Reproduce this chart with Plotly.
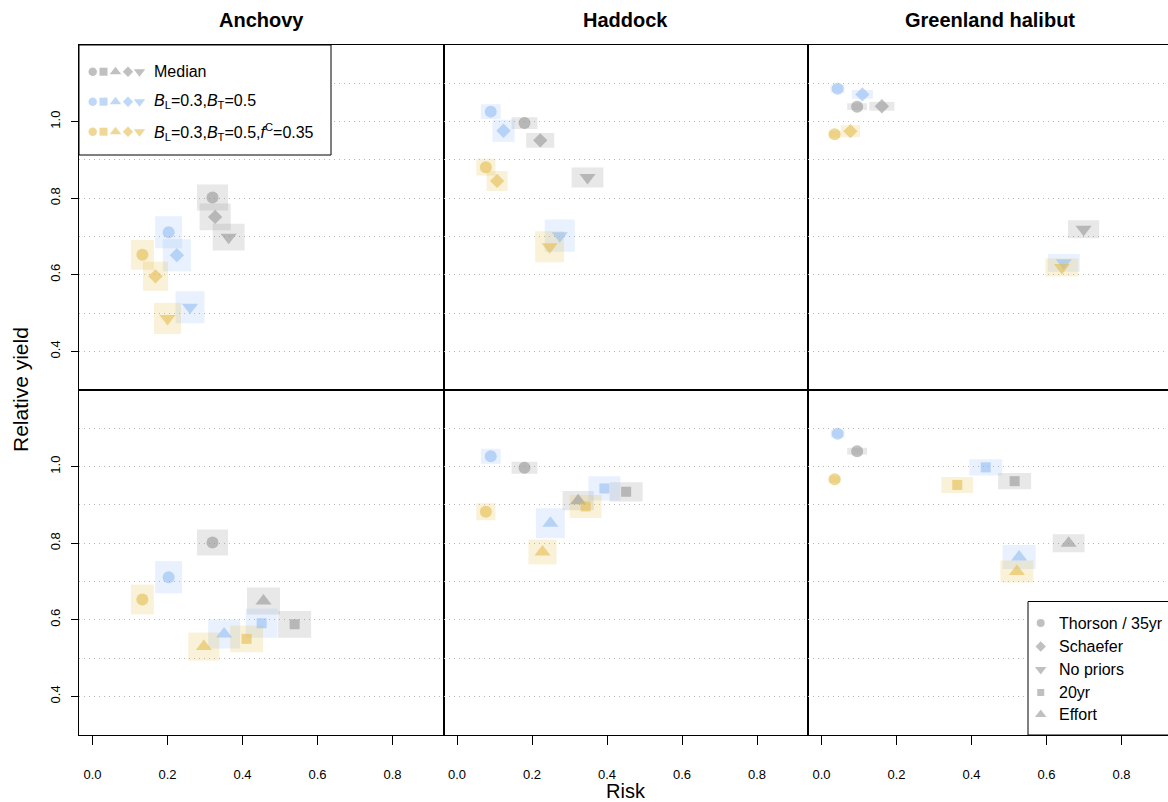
import plotly.graph_objects as go

# ---------------- data ----------------
species = ["Anchovy", "Haddock", "Greenland halibut"]
series_names = ["Median", "B_L=0.3,B_T=0.5", "B_L=0.3,B_T=0.5,f^C=0.35"]
top_methods = ["Thorson", "Schaefer", "No priors"]
bottom_methods = ["Thorson / 35yr", "20yr", "Effort"]
x_ticks = [0.0, 0.2, 0.4, 0.6, 0.8]
y_ticks = [0.4, 0.6, 0.8, 1.0]

# top row: [species][Thorson, Schaefer, No priors]
risk_median_top = [[0.320, 0.327, 0.363], [0.180, 0.222, 0.348], [0.095, 0.161, 0.699]]
yield_median_top = [[0.802, 0.751, 0.698], [0.996, 0.951, 0.854], [1.039, 1.040, 0.719]]
risk_bb_top = [[0.203, 0.225, 0.260], [0.090, 0.124, 0.274], [0.043, 0.109, 0.646]]
yield_bb_top = [[0.711, 0.651, 0.515], [1.026, 0.976, 0.702], [1.086, 1.071, 0.631]]
risk_bbf_top = [[0.133, 0.168, 0.200], [0.077, 0.107, 0.247], [0.035, 0.077, 0.641]]
yield_bbf_top = [[0.652, 0.596, 0.486], [0.881, 0.845, 0.673], [0.967, 0.975, 0.619]]

# bottom row: [species][Thorson/35yr, 20yr, Effort]
risk_median_bot = [[0.320, 0.539, 0.456], [0.180, 0.451, 0.323], [0.095, 0.515, 0.659]]
yield_median_bot = [[0.802, 0.588, 0.649], [0.997, 0.934, 0.911], [1.040, 0.962, 0.800]]
risk_bb_bot = [[0.203, 0.451, 0.351], [0.090, 0.393, 0.249], [0.043, 0.438, 0.527]]
yield_bb_bot = [[0.711, 0.591, 0.563], [1.027, 0.943, 0.852], [1.086, 0.998, 0.764]]
risk_bbf_bot = [[0.133, 0.411, 0.297], [0.077, 0.343, 0.228], [0.035, 0.362, 0.521]]
yield_bbf_bot = [[0.653, 0.550, 0.530], [0.882, 0.896, 0.777], [0.967, 0.952, 0.726]]

# spread (full width in risk, full height in yield) of the shaded boxes
rw_median_top = [[0.083, 0.083, 0.085], [0.069, 0.075, 0.085], [0.053, 0.067, 0.083]]
rh_median_top = [[0.068, 0.070, 0.070], [0.031, 0.039, 0.052], [0.018, 0.023, 0.047]]
rw_bb_top = [[0.072, 0.075, 0.077], [0.053, 0.059, 0.080], [0.037, 0.056, 0.085]]
rh_bb_top = [[0.084, 0.084, 0.084], [0.039, 0.057, 0.084], [0.021, 0.023, 0.047]]
rw_bbf_top = [[0.061, 0.067, 0.072], [0.051, 0.056, 0.077], [0.032, 0.051, 0.088]]
rh_bbf_top = [[0.078, 0.076, 0.081], [0.044, 0.052, 0.081], [0.018, 0.031, 0.047]]

rw_median_bot = [[0.083, 0.088, 0.088], [0.069, 0.088, 0.083], [0.053, 0.088, 0.085]]
rh_median_bot = [[0.068, 0.070, 0.070], [0.031, 0.050, 0.050], [0.018, 0.042, 0.047]]
rw_bb_bot = [[0.072, 0.085, 0.085], [0.053, 0.085, 0.077], [0.037, 0.088, 0.088]]
rh_bb_bot = [[0.084, 0.076, 0.076], [0.039, 0.063, 0.078], [0.021, 0.042, 0.063]]
rw_bbf_bot = [[0.061, 0.088, 0.083], [0.051, 0.085, 0.075], [0.032, 0.085, 0.088]]
rh_bbf_bot = [[0.078, 0.070, 0.073], [0.044, 0.060, 0.065], [0.018, 0.042, 0.057]]

# ---------------- style ----------------
W, H = 1168, 802
ML, MR, MT, MB = 79, 0, 45, 67
PW, PH = W - ML - MR, H - MT - MB
FONT = "Liberation Sans, Arial, Helvetica, sans-serif"

base_rgb = ["150,150,150", "148,190,244", "228,190,77"]
mk_col = ["rgba(%s,0.85)" % c for c in base_rgb]
box_col = ["rgba(%s,0.22)" % c for c in base_rgb]

top_symbols = ["circle", "diamond", "triangle-down"]
bot_symbols = ["circle", "square", "triangle-up"]
sym_size = {"circle": 12, "diamond": 11, "triangle-down": 14, "triangle-up": 14, "square": 10}


def px_x(px):
    return (px - ML) / PW


def px_y(py):
    return (H - MB - py) / PH


panel_w = 364.5
x_domains = [[0, panel_w / PW], [panel_w / PW, 2 * panel_w / PW], [2 * panel_w / PW, 1.0]]
xr0 = -0.036
px_per_unit = 375.0
x_ranges = [[xr0, xr0 + panel_w / px_per_unit], [xr0, xr0 + panel_w / px_per_unit],
            [xr0, xr0 + (PW - 2 * panel_w) / px_per_unit]]
y_domains = [[0.5, 1.0], [0.0, 0.5]]
y_range = [0.299, 1.2]

fig = go.Figure()
shapes = []

rows = [
    dict(sym=top_symbols,
         risk=[risk_median_top, risk_bb_top, risk_bbf_top],
         yld=[yield_median_top, yield_bb_top, yield_bbf_top],
         rw=[rw_median_top, rw_bb_top, rw_bbf_top],
         rh=[rh_median_top, rh_bb_top, rh_bbf_top]),
    dict(sym=bot_symbols,
         risk=[risk_median_bot, risk_bb_bot, risk_bbf_bot],
         yld=[yield_median_bot, yield_bb_bot, yield_bbf_bot],
         rw=[rw_median_bot, rw_bb_bot, rw_bbf_bot],
         rh=[rh_median_bot, rh_bb_bot, rh_bbf_bot]),
]

layout_axes = {}
for r, row in enumerate(rows):
    for c in range(3):
        k = r * 3 + c + 1
        xa = "x" if k == 1 else "x%d" % k
        ya = "y" if k == 1 else "y%d" % k
        # boxes
        for s in range(3):
            for m in range(3):
                xv = row["risk"][s][c][m]
                yv = row["yld"][s][c][m]
                hw = row["rw"][s][c][m] / 2
                hh = row["rh"][s][c][m] / 2
                shapes.append(dict(type="rect", xref=xa, yref=ya, layer="between",
                                   x0=xv - hw, x1=xv + hw, y0=yv - hh, y1=yv + hh,
                                   fillcolor=box_col[s], line=dict(width=0)))
        # points
        for s in range(3):
            fig.add_trace(go.Scatter(
                x=row["risk"][s][c], y=row["yld"][s][c], xaxis=xa, yaxis=ya,
                mode="markers", showlegend=False, hoverinfo="skip",
                marker=dict(symbol=row["sym"], size=[sym_size[q] for q in row["sym"]],
                            color=mk_col[s], line=dict(width=0))))
        bottom = (r == 1)
        left = (c == 0)
        layout_axes["xaxis" if k == 1 else "xaxis%d" % k] = dict(
            domain=x_domains[c], range=x_ranges[c], anchor=ya,
            showline=True, mirror=True, linecolor="black", linewidth=1.4,
            showgrid=False, zeroline=False,
            tickvals=x_ticks, ticktext=["%.1f" % v for v in x_ticks],
            ticks="outside" if bottom else "", ticklen=9, tickwidth=1, tickcolor="black",
            showticklabels=bottom, ticklabelstandoff=18,
            tickfont=dict(family=FONT, size=13, color="black"))
        layout_axes["yaxis" if k == 1 else "yaxis%d" % k] = dict(
            domain=y_domains[r], range=y_range, anchor=xa,
            showline=True, mirror=True, linecolor="black", linewidth=1.4,
            zeroline=False,
            tickvals=y_ticks, ticktext=["%.1f" % v for v in y_ticks],
            showgrid=True, gridcolor="#b4b4b4", gridwidth=1, griddash="1px,4px",
            minor=dict(tickvals=[0.5, 0.7, 0.9, 1.1], showgrid=True, gridcolor="#b4b4b4",
                       gridwidth=1, griddash="1px,4px", ticks=""),
            ticks="outside" if left else "", ticklen=7, tickwidth=1, tickcolor="black",
            showticklabels=left, tickangle=-90, ticklabelstandoff=6,
            tickfont=dict(family=FONT, size=13, color="black"))

# overlay axis (paper-like coordinates) for the legend keys
layout_axes["xaxis7"] = dict(domain=[0, 1], range=[0, 1], visible=False, anchor="y7")
layout_axes["yaxis7"] = dict(domain=[0, 1], range=[0, 1], visible=False, anchor="x7")

# top-left legend box
bx1, by0 = px_x(331), px_y(155)
fig.add_trace(go.Scatter(x=[0, bx1, bx1, 0, 0], y=[by0, by0, 1, 1, by0], xaxis="x7", yaxis="y7",
                         mode="lines", fill="toself", fillcolor="white",
                         line=dict(color="black", width=1), showlegend=False, hoverinfo="skip"))
leg_syms = ["circle", "square", "triangle-up", "diamond", "triangle-down"]
leg_sizes = [8.5, 8, 10, 8, 10]
leg_sx = [92.7, 103.5, 115.5, 128, 139.5]
leg_rows = [71.7, 101.7, 131.7]
for s in range(3):
    fig.add_trace(go.Scatter(x=[px_x(v) for v in leg_sx], y=[px_y(leg_rows[s])] * 5,
                             xaxis="x7", yaxis="y7", mode="markers", showlegend=False,
                             hoverinfo="skip", cliponaxis=False,
                             marker=dict(symbol=leg_syms, size=leg_sizes, color=mk_col[s],
                                         line=dict(width=0))))
leg_texts = ["Median",
             "<i>B</i><sub>L</sub>=0.3,<i>B</i><sub>T</sub>=0.5",
             "<i>B</i><sub>L</sub>=0.3,<i>B</i><sub>T</sub>=0.5,<i>f</i><sup>C</sup>=0.35"]

# bottom-right legend box
cx0, cy1 = px_x(1028), px_y(601.5)
fig.add_trace(go.Scatter(x=[1.02, cx0, cx0, 1.02], y=[cy1, cy1, 0, 0], xaxis="x7", yaxis="y7",
                         mode="lines", fill="toself", fillcolor="white",
                         line=dict(color="black", width=1), showlegend=False, hoverinfo="skip"))
meth_labels = ["Thorson / 35yr", "Schaefer", "No priors", "20yr", "Effort"]
meth_syms = ["circle", "diamond", "triangle-down", "square", "triangle-up"]
meth_sizes = [8, 8, 10, 7, 10]
meth_rows = [623, 646.5, 669.5, 692.5, 714.5]
fig.add_trace(go.Scatter(x=[px_x(1040.7)] * 5, y=[px_y(v) for v in meth_rows],
                         xaxis="x7", yaxis="y7", mode="markers", showlegend=False,
                         hoverinfo="skip", cliponaxis=False,
                         marker=dict(symbol=meth_syms, size=meth_sizes, color=mk_col[0],
                                     line=dict(width=0))))

annotations = []
for s in range(3):
    annotations.append(dict(x=px_x(152), y=px_y(leg_rows[s]), xref="paper", yref="paper",
                            text=leg_texts[s], showarrow=False, xanchor="left", yanchor="middle",
                            font=dict(family=FONT, size=16, color="black")))
for i, t in enumerate(meth_labels):
    annotations.append(dict(x=px_x(1057), y=px_y(meth_rows[i]), xref="paper", yref="paper",
                            text=t, showarrow=False, xanchor="left", yanchor="middle",
                            font=dict(family=FONT, size=16, color="black")))
for c, name in enumerate(species):
    annotations.append(dict(x=px_x(261 + c * 364.5), y=px_y(20), xref="paper", yref="paper",
                            text="<b>%s</b>" % name, showarrow=False,
                            xanchor="center", yanchor="middle",
                            font=dict(family=FONT, size=20, color="black")))
annotations.append(dict(x=px_x(626), y=px_y(791), xref="paper", yref="paper", text="Risk",
                        showarrow=False, xanchor="center", yanchor="middle",
                        font=dict(family=FONT, size=20, color="black")))
annotations.append(dict(x=px_x(20), y=0.5, xref="paper", yref="paper", text="Relative yield",
                        showarrow=False, xanchor="center", yanchor="middle", textangle=-90,
                        font=dict(family=FONT, size=21, color="black")))

fig.update_layout(width=W, height=H, margin=dict(l=ML, r=MR, t=MT, b=MB),
                  paper_bgcolor="white", plot_bgcolor="rgba(0,0,0,0)",
                  shapes=shapes, annotations=annotations, showlegend=False,
                  font=dict(family=FONT), **layout_axes)

fig.write_html("out.html")
